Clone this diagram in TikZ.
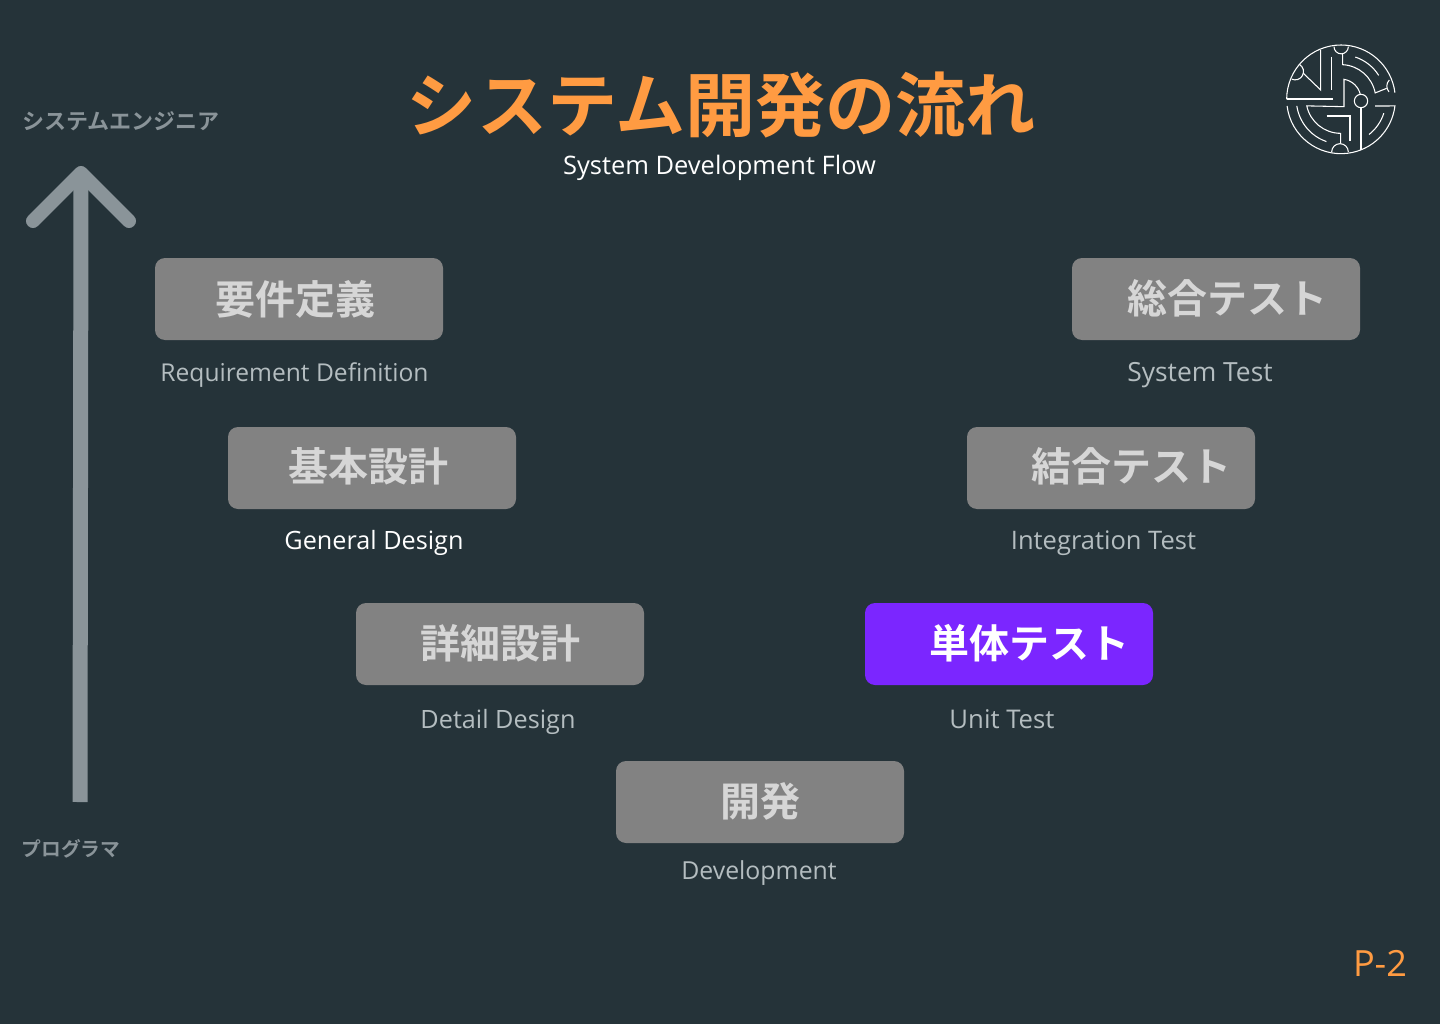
\documentclass[tikz,border=0pt]{standalone}
\usepackage{fontspec}
\setmainfont{Open Sans}
\newfontfamily\cjk{Noto Sans CJK JP}[BoldFont={Noto Sans CJK JP Bold}]
\definecolor{bgc}{HTML}{253339}
\definecolor{boxc}{HTML}{828282}
\definecolor{boxt}{HTML}{D6D6D6}
\definecolor{subc}{HTML}{B4BDC0}
\definecolor{orangec}{HTML}{FF9B42}
\definecolor{purplec}{HTML}{7B26FF}
\definecolor{arrc}{HTML}{8A9499}
\newcommand{\fitw}[2]{\resizebox{#1pt}{!}{#2}}
\newcommand{\ringarc}[3]{\draw (lc) ++(#1:#3*0.25pt) arc[start angle=#1,end angle=#2,radius=#3*0.25pt]}
\tikzset{
 x=0.75pt,y=-0.75pt,
 stage/.style={draw=none,fill=boxc,rounded corners=7.5pt,minimum width=216pt,minimum height=61.5pt,inner sep=0pt,anchor=center},
 stagetext/.style={font=\cjk\bfseries\fontsize{30}{30}\selectfont,text=boxt,inner sep=0pt,anchor=center},
 sub/.style={font=\fontsize{19}{19}\selectfont,text=subc,inner sep=0pt,anchor=base},
 role/.style={font=\cjk\bfseries\fontsize{16.5}{17}\selectfont,text=arrc,inner sep=0pt,anchor=center},
}
\begin{document}
\begin{tikzpicture}
\useasboundingbox[fill=bgc] (0,0) rectangle (1440,1024);
% title
\node[font=\cjk\bfseries\fontsize{52.6}{53}\selectfont,text=orangec,inner sep=0pt] (title) at (721.5,105) {システム開発の流れ};
\node[font=\fontsize{19.5}{20}\selectfont,text=white,inner sep=0pt,anchor=base] (subtitle) at (719.5,174) {\fitw{234.7}{System Development Flow}};
% roles and arrow
\node[role] (se) at (121,121) {システムエンジニア};
\node[role,font=\cjk\bfseries\fontsize{14.8}{15}\selectfont] (pg) at (71,849) {プログラマ};
\coordinate (arrowbase) at (80,802);
\coordinate (arrowtip) at (81,173);
\coordinate (headl) at (33,221);
\coordinate (headr) at (129,221);
\draw[arrc,line width=11.25pt] (arrowbase) -- (arrowtip);
\draw[arrc,line width=10.5pt,line cap=round,line join=round] (headl) -- (arrowtip) -- (headr);
% boxes
\node[stage] (b1) at (299,299) {};
\node[stage] (b2) at (372,468) {};
\node[stage] (b3) at (500,644) {};
\node[stage] (b4) at (760,802) {};
\node[stage,fill=purplec] (b5) at (1009,644) {};
\node[stage] (b6) at (1111,468) {};
\node[stage] (b7) at (1216,299) {};
\node[stagetext] (t1) at (295,299) {要件定義};
\node[stagetext] (t2) at (368,466) {基本設計};
\node[stagetext] (t3) at (500,643.5) {詳細設計};
\node[stagetext] (t4) at (760,801.5) {開発};
\node[stagetext,text=white] (t5) at (1029,643) {単体テスト};
\node[stagetext] (t6) at (1131,466) {結合テスト};
\node[stagetext] (t7) at (1227,298) {総合テスト};
\node[sub] (s1) at (294.5,381) {\fitw{201}{Requirement Definition}};
\node[sub,text=white] (s2) at (374,549) {\fitw{134.3}{General Design}};
\node[sub] (s3) at (498,728) {\fitw{116.3}{Detail Design}};
\node[sub] (s4) at (759,879) {\fitw{116.5}{Development}};
\node[sub] (s5) at (1002,728) {\fitw{78.8}{Unit Test}};
\node[sub] (s6) at (1103.5,549) {\fitw{138.8}{Integration Test}};
\node[sub] (s7) at (1200,381) {\fitw{109}{System Test}};
\node[font=\fontsize{24}{24}\selectfont,text=orangec,inner sep=0pt,anchor=base] (page) at (1380,976) {\fitw{40.5}{P-2}};
% logo
\begin{scope}[shift={(1270,30)},x=0.25pt,y=-0.25pt,line width=0.8pt,line cap=butt,white]
 \coordinate (lc) at (213,208);
 % outer ring
 \draw (50,207) -- (188,207);
 \ringarc{180}{7}{163};
 \ringarc{187}{353}{163} -- (315,228);
 % concentric arcs
 \ringarc{188.5}{251}{134};
 \ringarc{71.4}{32.4}{134};
 \ringarc{-18}{-51.4}{135};
 \draw (212,340) -- (212,310) arc[start angle=270,end angle=192,radius=104*0.25pt] -- (222,230) -- (222,148) arc[start angle=81,end angle=12,radius=60*0.25pt];
 \draw (218,72) -- (218,104) arc[start angle=87,end angle=11,radius=105*0.25pt] -- (350,175);
 % small end caps
 \draw (192,50) arc[start angle=180,end angle=360,radius=21.5*0.25pt];
 \draw (185,366) arc[start angle=180,end angle=0,radius=25*0.25pt];
 \draw (88,103) arc[start angle=60,end angle=-115,radius=25*0.25pt];
 \draw (358,150) arc[start angle=135,end angle=222,radius=26*0.25pt];
 % straight runs
 \draw (100,130) -- (152,180) -- (152,60);
 \draw (185,80) -- (185,180);
 \draw (170,258) -- (240,258) -- (240,332);
 \draw (273,213) circle[radius=20*0.25pt];
 \draw (273,233) -- (273,360);
\end{scope}
\end{tikzpicture}
\end{document}
